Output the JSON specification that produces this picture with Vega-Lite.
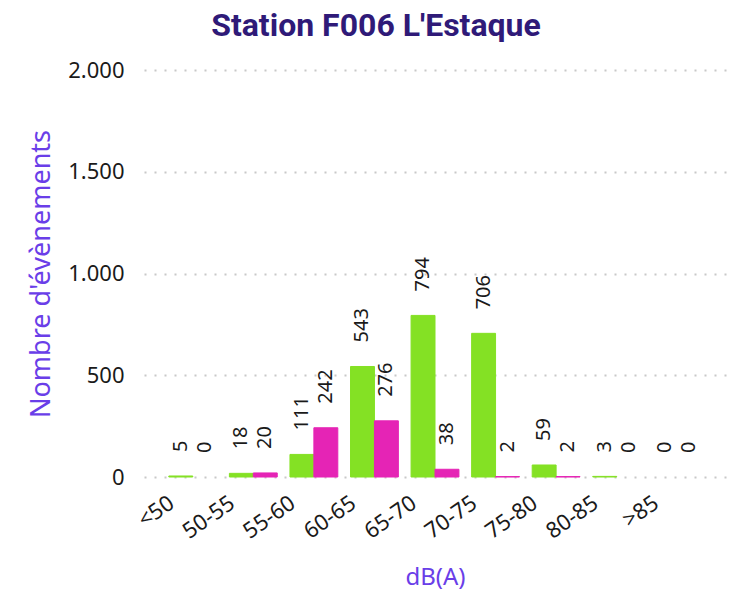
{
  "$schema": "https://vega.github.io/schema/vega-lite/v6.json",
  "autosize": "none",
  "width": 582,
  "height": 407,
  "padding": {"left": 144, "top": 70, "right": 8, "bottom": 116},
  "background": "white",
  "title": {
    "text": "Station F006 L'Estaque",
    "font": "Roboto",
    "fontSize": 32,
    "fontWeight": "bold",
    "color": "#2f1a78",
    "anchor": "middle",
    "dx": -59,
    "offset": 16
  },
  "data": {
    "values": [
      {"classe": "<50", "serie": "Série 1", "nombre": 5},
      {"classe": "<50", "serie": "Série 2", "nombre": 0},
      {"classe": "50-55", "serie": "Série 1", "nombre": 18},
      {"classe": "50-55", "serie": "Série 2", "nombre": 20},
      {"classe": "55-60", "serie": "Série 1", "nombre": 111},
      {"classe": "55-60", "serie": "Série 2", "nombre": 242},
      {"classe": "60-65", "serie": "Série 1", "nombre": 543},
      {"classe": "60-65", "serie": "Série 2", "nombre": 276},
      {"classe": "65-70", "serie": "Série 1", "nombre": 794},
      {"classe": "65-70", "serie": "Série 2", "nombre": 38},
      {"classe": "70-75", "serie": "Série 1", "nombre": 706},
      {"classe": "70-75", "serie": "Série 2", "nombre": 2},
      {"classe": "75-80", "serie": "Série 1", "nombre": 59},
      {"classe": "75-80", "serie": "Série 2", "nombre": 2},
      {"classe": "80-85", "serie": "Série 1", "nombre": 3},
      {"classe": "80-85", "serie": "Série 2", "nombre": 0},
      {"classe": ">85", "serie": "Série 1", "nombre": 0},
      {"classe": ">85", "serie": "Série 2", "nombre": 0}
    ]
  },
  "encoding": {
    "x": {
      "field": "classe",
      "type": "nominal",
      "sort": ["<50", "50-55", "55-60", "60-65", "65-70", "70-75", "75-80", "80-85", ">85"],
      "scale": {"paddingInner": 0.21, "paddingOuter": 0.41},
      "axis": {
        "title": "dB(A)",
        "titleFont": "Noto Sans",
        "titleFontSize": 24,
        "titleFontWeight": "normal",
        "titleColor": "#6a3ee8",
        "titleBaseline": "middle",
        "titleY": 100,
        "labelFont": "Noto Sans",
        "labelFontSize": 22,
        "labelColor": "#1a1a1a",
        "labelAngle": -35,
        "labelAlign": "right",
        "labelBaseline": "alphabetic",
        "labelOffset": -17,
        "labelPadding": 29,
        "domain": false,
        "ticks": false,
        "grid": false
      }
    },
    "xOffset": {"field": "serie", "type": "nominal", "sort": ["Série 1", "Série 2"]},
    "y": {
      "field": "nombre",
      "type": "quantitative",
      "scale": {"domain": [0, 2000], "nice": false},
      "axis": {
        "title": "Nombre d'évènements",
        "titleFont": "Noto Sans",
        "titleFontSize": 27,
        "titleFontWeight": "normal",
        "titleColor": "#6a3ee8",
        "titleBaseline": "middle",
        "titleX": -103,
        "values": [0, 500, 1000, 1500, 2000],
        "labelExpr": "replace(format(datum.value, ','), ',', '.')",
        "labelFont": "Noto Sans",
        "labelFontSize": 22,
        "labelColor": "#1a1a1a",
        "labelPadding": 20,
        "domain": false,
        "ticks": false,
        "grid": true,
        "gridColor": "#c8c8c8",
        "gridWidth": 2,
        "gridDash": [2, 8]
      }
    },
    "color": {
      "field": "serie",
      "type": "nominal",
      "scale": {"domain": ["Série 1", "Série 2"], "range": ["#84e124", "#e524b5"]},
      "legend": null
    }
  },
  "layer": [
    {
      "mark": {"type": "bar", "strokeWidth": 1},
      "encoding": {
        "stroke": {
          "field": "serie",
          "type": "nominal",
          "scale": {"domain": ["Série 1", "Série 2"], "range": ["#84e124", "#e524b5"]},
          "legend": null
        },
        "strokeOpacity": {
          "condition": {"test": "datum.nombre > 0", "value": 1},
          "value": 0
        }
      }
    },
    {
      "mark": {
        "type": "text",
        "angle": 270,
        "align": "left",
        "baseline": "middle",
        "dx": 24,
        "font": "Noto Sans",
        "fontSize": 20,
        "color": "#1a1a1a"
      },
      "encoding": {
        "text": {"field": "nombre", "type": "quantitative"},
        "color": {"value": "#1a1a1a"}
      }
    }
  ],
  "config": {"view": {"stroke": null}}
}
